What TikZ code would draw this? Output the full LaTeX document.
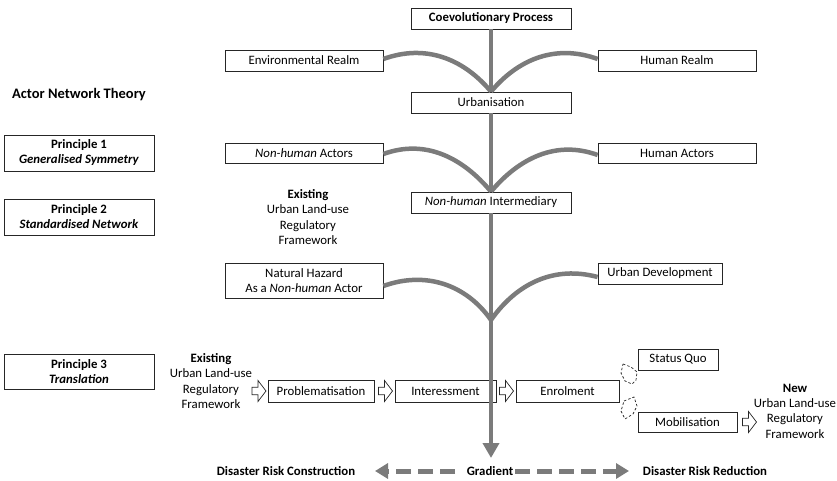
\documentclass[tikz,border=0pt]{standalone}
\usepackage{fontspec}
\setmainfont{Carlito}
\usetikzlibrary{arrows.meta}
\definecolor{trunkgray}{HTML}{7B7B7B}
\tikzset{
  box/.style={draw=black!85, line width=0.8pt, fill=white, inner sep=0pt, minimum height=21pt, align=center, font=\fontsize{12.8}{15}\selectfont},
  plain/.style={inner sep=0pt, align=center, font=\fontsize{12.8}{15.3}\selectfont},
  bold/.style={inner sep=0pt, align=center, font=\fontsize{12.8}{15}\bfseries},
  branch/.style={draw=trunkgray, line width=4.5pt},
  hollowarrow/.pic={\draw[draw=black!85, line width=0.7pt, fill=white] (-7,-3.8) -- (-1,-3.8) -- (-1,-10.5) -- (7,0) -- (-1,10.5) -- (-1,3.8) -- (-7,3.8) -- cycle;},
  dasharrow/.style={draw=trunkgray, line width=5pt, dash pattern=on 15pt off 7pt, -{Triangle[length=13pt,width=15pt]}},
  cloud/.style={draw=black!85, line width=0.7pt, dash pattern=on 2.5pt off 2pt},
}
\begin{document}
\begin{tikzpicture}[x=1pt,y=-1pt]
\useasboundingbox (0,0) rectangle (837,481);
% nodes
\node[box, minimum width=160pt, font=\fontsize{12.8}{15}\bfseries] (coev) at (491,18.5) {Coevolutionary Process};
\node[box, minimum width=158pt] (env) at (304,60.5) {Environmental Realm};
\node[box, minimum width=158pt] (hum) at (677,60.5) {Human Realm};
\node[box, minimum width=160pt] (urb) at (491,102.5) {Urbanisation};
\node[plain, font=\fontsize{14.5}{15}\bfseries] (ant) at (79,95) {Actor Network Theory};
\node[box, minimum width=150pt, minimum height=36pt] (p1) at (79,153) {\textbf{Principle 1}\\\textbf{\textit{Generalised Symmetry}}};
\node[box, minimum width=158pt, minimum height=20pt] (nha) at (304,153) {\textit{Non-human} Actors};
\node[box, minimum width=158pt, minimum height=20pt] (ha) at (677,153) {Human Actors};
\node[box, minimum width=160pt] (nhi) at (491,202.5) {\textit{Non-human} Intermediary};
\node[box, minimum width=150pt, minimum height=36pt] (p2) at (79,217) {\textbf{Principle 2}\\\textbf{\textit{Standardised Network}}};
\node[plain] (ex1) at (308,217) {\textbf{Existing}\\Urban Land-use\\Regulatory\\Framework};
\node[box, minimum width=158pt, minimum height=35pt] (nh) at (304,280.5) {Natural Hazard\\As a \textit{Non-human} Actor};
\node[box, minimum width=124pt] (ud) at (660,273.5) {Urban Development};
\coordinate (j3) at (491,320);
\node[box, minimum width=150pt, minimum height=35pt] (p3) at (79,371.5) {\textbf{Principle 3}\\\textbf{\textit{Translation}}};
\node[plain] (ex2) at (211,381) {\textbf{Existing}\\Urban Land-use\\Regulatory\\Framework};
\node[box, minimum width=106pt, minimum height=22pt] (prob) at (321,391) {Problematisation};
\node[box, minimum width=101pt, minimum height=22pt] (inter) at (445.5,391) {Interessment};
\node[box, minimum width=103pt, minimum height=22pt] (enrol) at (567.5,391.5) {Enrolment};
\node[box, minimum width=80pt] (sq) at (678,359.5) {Status Quo};
\node[box, minimum width=99pt, minimum height=20pt] (mob) at (687.5,422) {Mobilisation};
\node[plain] (new) at (795,411) {\textbf{New}\\Urban Land-use\\Regulatory\\Framework};
\pic (a1) at (259,391) {hollowarrow};
\pic (a2) at (385.5,391) {hollowarrow};
\pic (a3) at (506.5,391) {hollowarrow};
\pic (a4) at (749.5,422) {hollowarrow};
\node[bold] (drc) at (286,471) {Disaster Risk Construction};
\node[bold] (grad) at (490,471) {Gradient};
\node[bold] (drr) at (705,471) {Disaster Risk Reduction};
\coordinate (tip) at (491,458);
\coordinate (gl) at (455,471);
\coordinate (gr) at (515,471);
\coordinate (tl) at (375,471);
\coordinate (tr) at (629,471);
% trunk
\draw[branch] (coev.south) -- (urb.north);
\draw[branch] (urb.south) -- (nhi.north);
\draw[branch, -{Triangle[length=15pt,width=16pt]}] (nhi.south) -- (tip);
% branches
\draw[branch] ([yshift=1.5pt]env.east) to[out=20,in=130] (urb.north);
\draw[branch] (urb.north) to[out=50,in=160] ([yshift=1.5pt]hum.west);
\draw[branch] ([yshift=-1pt]nha.east) to[out=20,in=130] (nhi.north);
\draw[branch] (nhi.north) to[out=50,in=160] ([yshift=-2pt]ha.west);
\draw[branch] ([yshift=-5.5pt]nh.east) to[out=20,in=125] (j3);
\draw[branch] (j3) to[out=55,in=165] ([yshift=-3.5pt]ud.west);
% dashed gradient
\draw[dasharrow] (gl) -- (tl);
\draw[dasharrow] (gr) -- (tr);
% dashed little shapes
\draw[cloud] (623,364) -- (631,367) -- (637,372) -- (636,380) -- (632,384) -- (625,381) -- (621,373) -- cycle;
\draw[cloud] (624,401) -- (634,397) -- (637,406) -- (633,414) -- (625,419) -- (621,411) -- cycle;
\end{tikzpicture}
\end{document}
